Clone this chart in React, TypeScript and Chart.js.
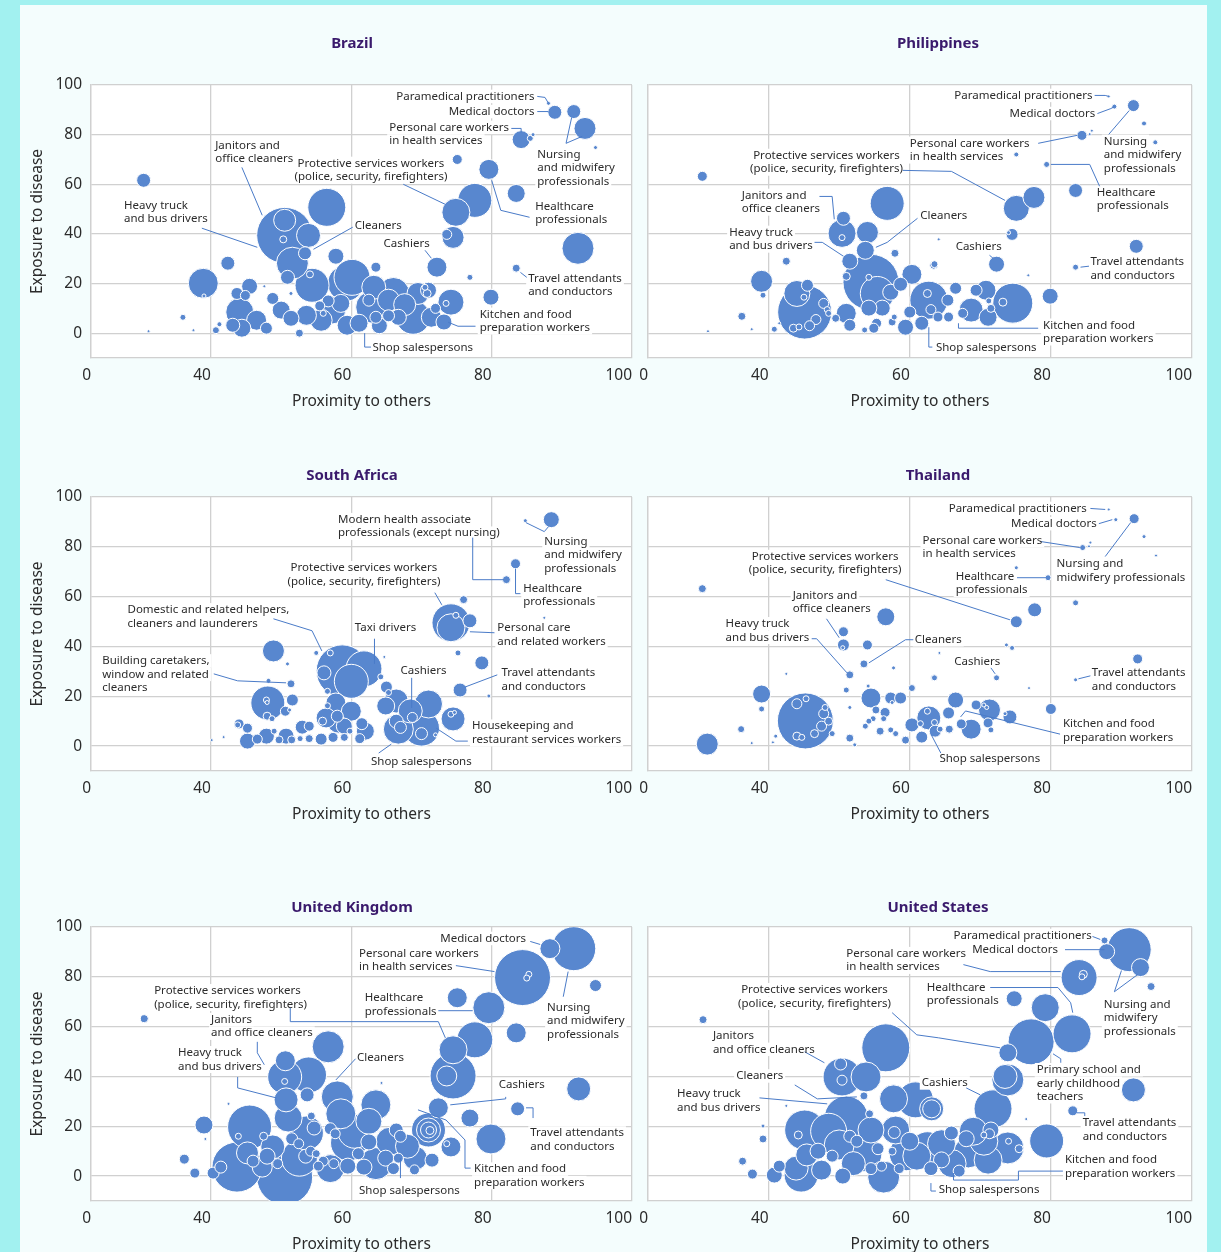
import React, { useEffect, useRef } from 'react';
import { Chart, registerables } from 'chart.js';

Chart.register(...registerables);
Chart.defaults.font.family = '"Noto Sans", "Open Sans", sans-serif';

// ---------- data: [proximity to others, exposure to disease, employment size] ----------
const BRAZIL = [
  [30.4,61.6,7],[31.1,0.8,1.5],[36.0,6.4,3],[37.5,1.2,1.5],[38.9,20.1,15],[39.0,15.0,2],[40.7,1.2,3.5],[41.2,3.6,2.5],[42.4,28.2,7],[44.1,8.5,14],[45.5,18.9,8],[43.7,16,6],[44.9,15.2,5],[44.4,2,9],[43.1,3.2,7],[46.5,5.2,10],[47.9,2,6],[47.6,18.9,1.5],[48.8,14,6],[50.0,9.3,9],[51.4,16,2],[51.4,6,8],[52.6,0,4],[50.5,39.4,28],[50.5,45.5,11],[50.3,37.8,3.5],[53.9,39.4,12],[53.4,32.2,6.5],[51.6,28.2,16],[50.9,22.5,7],[56.5,50.7,19],[57.8,31,8],[54.4,19.3,17],[54.1,23.7,3.5],[59.2,20.1,18],[53.6,7.2,10],[55.7,5.2,11],[59.4,3.2,10],[57.2,9.3,14],[55.5,11,5],[56,8,3],
  [88.1,92.6,2],[89.0,89.0,7],[91.7,89.3,7],[93.3,82.5,11],[94.8,74.8,2],[84.2,78.0,9],[85.5,78.5,3],[85.9,80,2],[75.1,70,5],[79.6,66,10],[83.5,56.3,9],[77.6,53.5,17],[74.9,48.7,14],[74.5,38.6,11],[73.6,39.8,5],[92.3,34.2,16],[72.2,26.6,10],[83.5,26.2,4],[76.9,22.5,3],[63.5,26.6,5],[79.9,14.5,8],
  [60.1,22.5,18],[66,16,16],[69.5,16,11],[71,17.3,8],[74.2,12.5,13],[68.8,6.4,17],[62.9,10.5,16],[61.1,4,9],[65.3,13.3,11],[62.5,13.3,6],[71.4,6.4,10],[66.7,6.4,8],[63.5,6.4,6],[65.3,7,6],[72,10,5],[73.5,12,3],[70.8,16,4],[70.5,18.5,3],[64,3,8],[58.5,12,9],[56.7,13,6],[63.2,18.5,12],[67.6,11.5,11],[73.2,4.5,8],
];

const PHILIPPINES = [
  [30.6,63.2,5],[31.4,0.8,1.5],[36.2,6.8,4],[37.6,1.6,1.5],[39,20.9,11],[39.2,15.3,3],[40.8,1.6,3],[41.5,4,1.5],[42.5,29,4],[45.1,8.5,27],[44,16,13],[45.5,19.3,6],[45,14.5,3],[47.8,12,5],[48.3,9.5,3],[46.7,5.5,5],[45.8,3,5],[43.5,2,4],[44.3,2.5,3],[49.5,6,4],[48.5,8,3],[51,8,10],[51.5,3.2,6],[53.6,1.3,3],[50.6,46.3,7],[50.4,40.2,14],[50.4,38.5,3],[54,40.6,11],[56.8,52.3,17],[53.7,33.4,9],[51.5,29,8],[51,22.9,4],[54.5,20.5,28],[54.2,22.5,3],[55.4,16,17],[57.9,32.2,4],[60.3,23.7,10],[58.7,19.7,7],[57.3,16.5,8],[56.1,10.1,8],[54.2,10.1,8],[59.4,2.4,8],[57.5,4.5,4],[55.3,4,5],[54.9,2,5],[57.8,6.5,3],[60,8.5,6],[63.4,27.4,4],[61.7,4,7],[62.7,13.3,19],[62.5,16,4],
  [88.2,95.4,1.5],[89,91.3,2.5],[91.7,91.7,6],[93.2,84.5,2.5],[94.8,76.9,2.5],[84.4,79.7,5],[85.5,80.2,1.5],[85.8,81.6,1.5],[75.1,72,2.5],[79.4,68,3],[83.5,57.5,7],[77.6,54.7,11],[75.1,50.3,13],[64.1,37.8,1.5],[74.5,39.8,6],[74,40.5,2],[92.1,35,7],[72.3,27.8,8],[63.5,27.8,3.5],[83.5,26.6,3],[76.8,23.3,1.5],[79.9,14.9,8],[74.6,12.1,20],[70.8,17.3,10],[69.4,17.3,6],[66.5,18.1,6],[65.4,13.3,6],[68.7,9.3,12],[71.1,6.4,9],[67.5,8,5],[65.5,6.5,5],[64,6.5,5],[63,9.5,5],[73.2,12.5,4],[71.5,10,4],[71.2,13,3],
];

const SOUTH_AFRICA = [
  [40.1,2.4,1.5],[41.8,3.6,1.5],[44,8.9,5],[43.8,8.5,3],[45.2,2,8],[45.2,7.2,5],[46.6,2.8,5],[47.9,4,8],[48.9,38.2,11],[50.9,33,2],[48.2,26.2,2.5],[51.4,25,4],[48.1,17.3,17],[47.9,18.5,3],[48.0,17.5,2],[50.6,14,5],[51.2,14.5,2],[51.6,18.5,6],[48,12,4],[48.7,11,3],[50.7,4,8],[49.7,2.5,4],[51.5,2.5,4],[49,6,3],[53,7.6,7],[54,8,5],[55,37.4,2.5],[57,37.4,3],[56.1,29.4,7],[58.7,30.2,26],[57.8,17.3,10],[56.6,22,3],[56.6,16.2,3],[56.4,11.3,10],[58,12,6],[55.9,10,4],[55.7,2.8,6],[54,3,4],[57.4,3.5,5],[59,3.5,4],[59.8,6,3],[52.7,3,3],[58.2,10,12],[59,8,8],
  [84.8,90.5,2],[88.5,90.9,8],[83.4,73.2,5],[82.1,66.8,4],[87.5,51.5,1.5],[76,58.8,4],[74.2,49.5,19],[74.2,47.5,14],[74.9,52.5,3],[76.9,50.3,7],[75.2,37.4,3],[64.7,35.8,1.5],[78.6,33.4,7],[75.5,22.5,7],[79.6,20.1,2],[74.5,10.9,12],[74.2,12.8,3],[74.7,13.5,2],[61.8,31,18],[64.2,27.8,3],[65,23.7,6],[65.3,21.5,3],[66.4,18.1,12],[64.9,16.1,9],[68.4,14.1,12],[71,16.9,14],[68.7,11.5,5],[66.7,6.8,15],[66.4,10,7],[67,7.5,6],[70,7.2,18],[70,5,6],[72,4.5,2],[62,6,9],[61.2,3,5],[60,26,17],[60,14,10],[61.5,9,6],
];

const THAILAND = [
  [30.6,63.2,4],[31.3,0.8,11],[36.1,6.8,3.5],[37.6,1.2,1.5],[39,20.9,9],[39,14.9,3],[40.6,1.5,1.5],[41,4,2],[42.5,29,1.5],[45.2,10.1,28],[45.3,19,3],[44,17,5],[48,15.5,3],[47.8,13,5],[47.5,8,5],[48.5,10,4],[46.5,5,4],[44,4,4],[44.7,3.5,3],[49,5,3],[51.5,3.2,4],[52.2,0.5,2],[50.6,45.9,5],[50.6,40.6,6],[50.5,39.5,2],[54,40.6,5],[56.6,51.9,9],[53.5,33,4],[51.5,28.6,4],[51,22.5,3],[54.1,24.1,2],[54.5,19.3,10],[51.5,15.5,2],[57.7,31.4,2],[57.3,19.3,6],[58.7,19.3,6],[57.5,17.5,2],[60.3,23.3,3.5],[63.4,27.4,3],[55.2,14.5,4],[56.5,13.5,5],[54.8,11,3],[56.3,11,3],[54.2,10,3],[53.7,8,3],[55.8,6,4],[57.3,6.5,3],[58,5,3],[59.4,2.4,4],[60.3,8.5,7],[61.7,3.6,6],[62.7,11.3,12],[62.5,14,3],[61.5,9,3],
  [88.2,95,1.5],[89.2,90.9,2],[91.8,91.3,5],[93.2,84.1,2],[94.9,76.5,1.5],[84.5,79.7,3],[85.4,80.2,1.5],[85.6,81.7,1.5],[75.1,71.6,2],[79.6,67.6,3],[83.5,57.5,3],[77.7,54.7,7],[75.1,49.9,6],[73.7,40.6,2],[74.5,39.4,2.5],[64.2,37.4,1.5],[92.3,35,5],[72.3,27.4,3],[63.5,27.4,3],[83.5,26.6,2],[76.9,23.3,1.5],[80,14.9,5.5],[74.2,11.7,7],[73.5,13,2],[71.3,14.5,11],[70.5,16.5,2],[70.9,15.5,2],[69.4,16.5,5],[66.5,18.5,8],[65.5,13.3,6],[68.7,6.8,10],[71.1,9.3,5],[71.5,6.5,3],[67.3,8.9,5],[65.6,6.8,4],[64.3,6.8,3],[63.5,9.5,3],[63.6,6,6],
];

const UNITED_KINGDOM = [
  [30.5,63.2,4],[36.2,6.8,5],[37.7,1.2,5],[39,20.5,9],[39.2,14.9,1.5],[42.5,29,1.5],[40.3,1.2,6],[41.4,3.6,6],[43.7,3.6,25],[45.5,19.7,22],[43.9,16,3],[45.2,9.3,11],[47.3,3.6,10],[48.8,11.7,12],[47.5,16,4],[50.5,-0.4,28],[51,23.3,14],[50.7,30.6,12],[50.5,39.8,17],[50.5,38,3],[50.6,46.3,10],[53.9,40.6,18],[56.7,51.9,16],[53.7,32.6,7],[58,31.8,16],[54.3,24.1,4],[54.7,19.3,7],[57.7,17,5],[54.2,10,5],[55,9,4],[52.6,7.2,18],[53.5,8,7],[52.5,13,5],[56,6,5],[57.5,5,5],[55.3,4,5],[57,3,14],[59.6,13.3,18],[53.6,17.3,17],[48,8,8],[46,6,6],[49.5,5,5],[51.5,15,6],[57,19,6],
  [88.3,91.3,10],[91.7,91.3,22],[84.4,79.7,28],[85.3,81,3],[85,79.5,3],[94.8,76.5,6],[75.1,71.6,10],[79.6,67.6,16],[83.5,57.5,10],[77.6,54.7,18],[74.5,50.7,14],[74.5,40.2,23],[73.6,40.2,10],[92.4,35,12],[64.3,37.4,1.5],[72.4,27.4,10],[83.7,27,7],[76.9,23.3,9],[79.9,14.9,15],[63.5,28.6,15],[58.5,25,15],[71,18.5,17],[71,18.5,12],[71,18.5,8],[71.2,18.3,4],[66.4,18.5,7],[62.5,13.7,8],[74.2,11.7,10],[73.6,13,3],[69.1,7.2,12],[71.5,6.4,7],[66.7,7.2,5],[64.9,7.2,8],[61.8,3.6,8],[63.5,5,16],[60.5,18,17],[62.5,22,13],[65.5,14,14],[68,12,12],[67,16,6],[59.5,4,8],[66,3,6],[69,2.5,5],[61,9,6],
];

const UNITED_STATES = [
  [30.7,62.8,4],[36.3,6,4],[37.7,0.8,5],[39.2,14.9,4],[39.2,20.1,2],[42.5,28.2,1.5],[40.8,0.4,8],[41.5,4,6],[43.9,3.2,12],[45.1,18.5,20],[44.6,0.4,17],[45.4,8.5,11],[44.2,16.5,4],[48.5,18,18],[47.5,2.4,10],[50,12.5,15],[51,23.3,22],[50.4,39.8,19],[50.2,45,6],[50.4,38.5,5],[53.8,39.8,15],[56.6,51.5,24],[53.5,32.2,4],[57.7,31,14],[54.3,25,4],[54.5,18.5,13],[51.5,16,6],[53.5,9,18],[52,5,12],[50.5,0,8],[54.5,3,6],[56,4,5],[56.3,-0.4,16],[58.5,3,5],[60.8,30.6,18],[58,18.5,14],[57.8,17.5,6],[59.5,9,17],[60,14,9],[63.1,27,9],[47,10,8],[49,8,6],[52.5,14,6],[55.5,11,6],[57.5,10,4],
  [87.6,94.6,3.5],[87.9,90.1,8],[91.1,90.9,22],[92.7,83.7,9],[94.2,76.1,4],[84,79.7,18],[84.6,81,4],[84.4,80,3],[74.8,71.2,8],[79.2,67.6,14],[83,57.1,19],[77.2,53.9,23],[73.9,49.5,9],[73.9,38.6,16],[73.5,40,12],[91.7,34.6,12],[71.8,27,19],[76.5,22.9,1.5],[83.1,26.2,5],[79.4,14.1,17],[73.9,11.3,16],[74,14,3],[71.1,6.4,14],[70.5,14,14],[65.9,17.3,7],[63.1,27,12],[68.3,9.3,15],[66,5,14],[63,3,7],[62.5,11,17],[64.5,13,14],[68,15,8],[69,18,14],[71.5,18.5,8],[71.3,17,5],[70.5,16.5,3],[61,8,14],[64.5,6.5,8],[67,2,6],[75.5,11,4],
];

// axis ticks
const X_MIN = 22.9;
const X_MAX = 100;
const X_TICKS = [X_MIN, 40, 60, 80, 100];
const X_TICK_LABELS = ['0', '40', '60', '80', '100'];
const Y_MIN = -10;
const Y_MAX = 100;
const Y_TICKS = [0, 20, 40, 60, 80, 100];

// ---------- annotations (label text, anchor and leader path in data units) ----------
const BRAZIL_NOTES = [
  { t: ['Paramedical practitioners'], x: 86.1, y: 95.4, a: 'r', p: [[86.5,95.4],[87.6,95.0],[88.1,92.6]] },
  { t: ['Medical doctors'], x: 86.1, y: 89.3, a: 'r', p: [[86.5,89.3],[88.1,89.3]] },
  { t: ['Personal care workers', 'in health services'], x: 65.4, y: 82.9, a: 'l', p: [[82.8,82.5],[84.2,82.5],[84.2,80.9]] },
  { t: ['Nursing', 'and midwifery', 'professionals'], x: 86.5, y: 72.0, a: 'l', p: [[91.4,86.9],[90.6,76.5],[92.9,79.3]] },
  { t: ['Protective services workers', '(police, security, firefighters)'], x: 62.8, y: 68.4, a: 'c', p: [[67.4,60.0],[73.4,51.9]] },
  { t: ['Healthcare', 'professionals'], x: 86.2, y: 51.1, a: 'l', p: [[80,61.6],[81.3,49.5],[85.4,46.7]] },
  { t: ['Cleaners'], x: 60.5, y: 43.1, a: 'l', p: [[60.2,42.7],[54.6,33.8]] },
  { t: ['Cashiers'], x: 64.6, y: 36.2, a: 'l', p: [[70.5,33.4],[71.4,30.2]] },
  { t: ['Travel attendants', 'and conductors'], x: 85.2, y: 22.1, a: 'l', p: [[84.1,24.5],[85.0,22.5]] },
  { t: ['Kitchen and food', 'preparation workers'], x: 78.3, y: 7.6, a: 'l', p: [[73.8,4.4],[75.2,2.8],[77.7,2.8]] },
  { t: ['Shop salespersons'], x: 63.0, y: -6.0, a: 'l', p: [[61.9,0],[61.9,-5.6],[62.8,-5.6]] },
  { t: ['Janitors and', 'office cleaners'], x: 40.6, y: 75.7, a: 'l', p: [[44.4,66.8],[47.3,47.5]] },
  { t: ['Heavy truck', 'and bus drivers'], x: 27.6, y: 51.5, a: 'l', p: [[38.7,42.3],[46.6,34.6]] },
];

const PHILIPPINES_NOTES = [
  { t: ['Paramedical practitioners'], x: 85.9, y: 95.8, a: 'r', p: [[86.2,95.8],[87.7,95.8],[88.2,95.4]] },
  { t: ['Medical doctors'], x: 86.3, y: 88.5, a: 'r', p: [[86.6,88.5],[88.5,90.5],[89.0,91.3]] },
  { t: ['Personal care workers', 'in health services'], x: 60.0, y: 76.5, a: 'l', p: [[78.2,76.5],[83.7,79.7]] },
  { t: ['Nursing', 'and midwifery', 'professionals'], x: 87.5, y: 77.3, a: 'l', p: [[88.2,80.1],[91.1,89.7]] },
  { t: ['Healthcare', 'professionals'], x: 86.5, y: 56.7, a: 'l', p: [[80.0,68.0],[85.5,68.0],[86.9,59.2]] },
  { t: ['Protective services workers', '(police, security, firefighters)'], x: 48.2, y: 71.6, a: 'c', p: [[59.0,65.6],[65.9,65.2],[73.5,53.5]] },
  { t: ['Janitors and', 'office cleaners'], x: 36.2, y: 55.5, a: 'l', p: [[47.2,55.1],[49.0,55.1],[49.3,45.9]] },
  { t: ['Heavy truck', 'and bus drivers'], x: 34.4, y: 40.6, a: 'l', p: [[46.5,36.6],[47.6,36.6],[50.6,31.0]] },
  { t: ['Cleaners'], x: 61.5, y: 47.5, a: 'l', p: [[61.1,46.3],[56.8,36.6],[55.2,34.6]] },
  { t: ['Cashiers'], x: 66.5, y: 35.0, a: 'l', p: [[71.3,31.4],[71.8,30.2]] },
  { t: ['Travel attendants', 'and conductors'], x: 85.6, y: 28.6, a: 'l', p: [[84.2,26.6],[85.4,27.0]] },
  { t: ['Kitchen and food', 'preparation workers'], x: 78.9, y: 3.2, a: 'l', p: [[66.9,4.0],[66.9,2.0],[78.2,2.0]] },
  { t: ['Shop salespersons'], x: 63.7, y: -6.0, a: 'l', p: [[62.7,2.4],[62.7,-5.6],[63.2,-5.6]] },
];

const SOUTH_AFRICA_NOTES = [
  { t: ['Modern health associate', 'professionals (except nursing)'], x: 58.1, y: 90.9, a: 'l', p: [[77.3,83.7],[77.3,66.8],[81.7,66.8]] },
  { t: ['Nursing', 'and midwifery', 'professionals'], x: 87.5, y: 82.1, a: 'l', p: [[84.9,89.7],[87.5,86.1],[88.1,88.1]] },
  { t: ['Healthcare', 'professionals'], x: 84.5, y: 63.2, a: 'l', p: [[83.4,71.2],[83.4,61.2],[84.1,61.2]] },
  { t: ['Protective services workers', '(police, security, firefighters)'], x: 61.8, y: 71.6, a: 'c', p: [[71.9,61.6],[72.9,56.7]] },
  { t: ['Personal care', 'and related workers'], x: 80.8, y: 47.5, a: 'l', p: [[76.9,45.9],[80.4,45.5]] },
  { t: ['Taxi drivers'], x: 60.5, y: 47.5, a: 'l', p: [[63.3,43.1],[63.3,33.0]] },
  { t: ['Domestic and related helpers,', 'cleaners and launderers'], x: 28.1, y: 54.7, a: 'l', p: [[48.9,51.1],[54.4,46.3],[55.8,38.2]] },
  { t: ['Building caretakers,', 'window and related', 'cleaners'], x: 24.5, y: 34.2, a: 'l', p: [[40.4,29.0],[43.8,26.2],[50.7,25.4]] },
  { t: ['Cashiers'], x: 67.0, y: 30.2, a: 'l', p: [[68.6,27.4],[68.6,15.3]] },
  { t: ['Travel attendants', 'and conductors'], x: 81.4, y: 29.4, a: 'l', p: [[76.2,23.7],[80.8,28.6]] },
  { t: ['Housekeeping and', 'restaurant services workers'], x: 77.2, y: 8.0, a: 'l', p: [[72.1,7.2],[74.9,2.0],[76.6,2.0]] },
  { t: ['Shop salespersons'], x: 62.8, y: -6.4, a: 'l', p: [[65.7,0.8],[63.9,-2.8]] },
];

const THAILAND_NOTES = [
  { t: ['Paramedical practitioners'], x: 85.1, y: 95.4, a: 'r', p: [[85.6,95.4],[87.7,95.0]] },
  { t: ['Medical doctors'], x: 86.5, y: 89.3, a: 'r', p: [[86.8,89.3],[88.7,90.9]] },
  { t: ['Personal care workers', 'in health services'], x: 61.8, y: 82.5, a: 'l', p: [[78.6,82.1],[84.1,79.7]] },
  { t: ['Nursing and', 'midwifery professionals'], x: 80.8, y: 73.2, a: 'l', p: [[87.7,76.1],[91.3,89.7]] },
  { t: ['Healthcare', 'professionals'], x: 66.5, y: 68.0, a: 'l', p: [[75.2,67.6],[79.3,67.6]] },
  { t: ['Protective services workers', '(police, security, firefighters)'], x: 48.0, y: 76.1, a: 'c', p: [[56.6,66.8],[74.2,50.7]] },
  { t: ['Janitors and', 'office cleaners'], x: 43.4, y: 60.4, a: 'l', p: [[48.2,51.1],[50.0,43.5]] },
  { t: ['Heavy truck', 'and bus drivers'], x: 33.9, y: 49.1, a: 'l', p: [[46.1,43.1],[46.8,43.1],[51.1,29.4]] },
  { t: ['Cleaners'], x: 60.7, y: 42.7, a: 'l', p: [[60.5,42.7],[59.4,42.7],[54.2,33.4]] },
  { t: ['Cashiers'], x: 66.3, y: 33.8, a: 'l', p: [[71.5,31.4],[72.1,29.0]] },
  { t: ['Travel attendants', 'and conductors'], x: 85.8, y: 29.4, a: 'l', p: [[83.9,27.0],[85.6,28.2]] },
  { t: ['Kitchen and food', 'preparation workers'], x: 81.7, y: 8.9, a: 'l', p: [[67.2,11.7],[67.9,14.1],[81.3,4.8]] },
  { t: ['Shop salespersons'], x: 64.2, y: -5.2, a: 'l', p: [[63.0,4.8],[64.4,-2.8]] },
];

const UNITED_KINGDOM_NOTES = [
  { t: ['Medical doctors'], x: 84.9, y: 95.4, a: 'r', p: [[85.5,94.2],[86.9,93.0]] },
  { t: ['Personal care workers', 'in health services'], x: 61.1, y: 89.3, a: 'l', p: [[74.9,84.5],[80.4,82.1]] },
  { t: ['Nursing', 'and midwifery', 'professionals'], x: 87.9, y: 67.6, a: 'l', p: [[90.9,82.1],[90.2,72.0]] },
  { t: ['Healthcare', 'professionals'], x: 61.9, y: 71.6, a: 'l', p: [[72.4,66.4],[77.3,66.4]] },
  { t: ['Protective services workers', '(police, security, firefighters)'], x: 31.9, y: 74.4, a: 'l', p: [[51.3,67.6],[51.3,62.0],[72.4,62.0],[73.4,55.5]] },
  { t: ['Janitors', 'and office cleaners'], x: 40.0, y: 62.8, a: 'l', p: [[46.6,53.9],[46.6,49.5],[47.6,44.7]] },
  { t: ['Heavy truck', 'and bus drivers'], x: 35.3, y: 49.5, a: 'l', p: [[43.8,39.8],[43.8,35.4],[49.3,31.4]] },
  { t: ['Cleaners'], x: 60.8, y: 47.5, a: 'l', p: [[60.6,47.1],[57.8,38.6]] },
  { t: ['Cashiers'], x: 81.0, y: 36.6, a: 'l', p: [[82.0,31.8],[82.0,31.0],[74.1,28.6]] },
  { t: ['Travel attendants', 'and conductors'], x: 85.5, y: 17.3, a: 'l', p: [[84.9,27.4],[85.9,27.4],[85.9,23.3]] },
  { t: ['Kitchen and food', 'preparation workers'], x: 77.5, y: 2.8, a: 'l', p: [[69.5,26.6],[73.5,22.5],[76.2,14.5],[76.2,3.2],[77.0,3.2]] },
  { t: ['Shop salespersons'], x: 61.1, y: -6.0, a: 'l', p: [[67.0,7.2],[67.0,-0.8]] },
];

const UNITED_STATES_NOTES = [
  { t: ['Paramedical practitioners'], x: 85.8, y: 96.6, a: 'r', p: [[85.9,96.2],[87.0,95.0]] },
  { t: ['Medical doctors'], x: 81.0, y: 90.9, a: 'r', p: [[82.0,90.9],[87.6,90.9]] },
  { t: ['Personal care workers', 'in health services'], x: 51.0, y: 89.3, a: 'l', p: [[67.6,84.9],[71.4,82.1],[81.4,82.1]] },
  { t: ['Healthcare', 'professionals'], x: 62.4, y: 75.7, a: 'l', p: [[71.4,75.7],[81.0,75.7],[82.8,69.6],[83.1,65.6]] },
  { t: ['Nursing and', 'midwifery', 'professionals'], x: 87.5, y: 68.8, a: 'l', p: [[90.0,82.5],[89.0,74.0],[92.3,80.9]] },
  { t: ['Protective services workers', '(police, security, firefighters)'], x: 46.5, y: 74.8, a: 'c', p: [[57.5,65.6],[61.0,56.7],[64.1,55.5],[72.8,51.5]] },
  { t: ['Janitors', 'and office cleaners'], x: 32.1, y: 56.3, a: 'l', p: [[45.1,49.9],[47.9,45.5]] },
  { t: ['Cleaners'], x: 35.4, y: 40.2, a: 'l', p: [[43.7,36.6],[46.9,31.0],[52.5,31.8]] },
  { t: ['Heavy truck', 'and bus drivers'], x: 27.0, y: 33.0, a: 'l', p: [[38.7,31.4],[48.3,29.0]] },
  { t: ['Cashiers'], x: 61.7, y: 37.4, a: 'l', p: [[68.0,35.4],[70.0,32.6]] },
  { t: ['Primary school and', 'early childhood', 'teachers'], x: 78.0, y: 42.7, a: 'l', p: [[80.3,49.1],[81.4,47.1],[81.4,45.5]] },
  { t: ['Travel attendants', 'and conductors'], x: 84.5, y: 21.3, a: 'l', p: [[83.7,25.4],[84.8,25.4],[84.8,24.1]] },
  { t: ['Kitchen and food', 'preparation workers'], x: 82.0, y: 6.4, a: 'l', p: [[66.2,1.2],[66.2,-1.6],[75.4,-1.6],[75.4,2.0],[81.7,2.0]] },
  { t: ['Shop salespersons'], x: 64.1, y: -5.6, a: 'l', p: [[63.0,-2.8],[63.0,-6.0],[63.7,-6.0]] },
];

// ---------- styles ----------
const OUTER_BG = '#a2f1f0';
const INNER_BG = '#f4fdfd';
const BUBBLE = '#5887cf';
const GRID = '#d0d0d0';
const LEADER = '#4a7bc8';
const TEXT = '#2b2b2b';
const TITLE = '#3a1a6c';
const NOTE_FONT = '11.5px "Noto Sans", sans-serif';
const NOTE_LH = 13.5;
const CANVAS_H = 432;
const X_AXIS_H = 70;

const COLS = [
  { left: 20, width: 620, yAxisW: 71, padR: 5, titleX: 332, showY: true },
  { left: 630, width: 577, yAxisW: 18, padR: 15, titleX: 308, showY: false },
];
const ROWS = [
  { top: 5, padT: 80, padB: 9 },
  { top: 437, padT: 60, padB: 28 },
  { top: 869, padT: 58, padB: 30 },
];

const PANELS = [
  { name: 'Brazil', data: BRAZIL, notes: BRAZIL_NOTES, col: 0, row: 0 },
  { name: 'Philippines', data: PHILIPPINES, notes: PHILIPPINES_NOTES, col: 1, row: 0 },
  { name: 'South Africa', data: SOUTH_AFRICA, notes: SOUTH_AFRICA_NOTES, col: 0, row: 1 },
  { name: 'Thailand', data: THAILAND, notes: THAILAND_NOTES, col: 1, row: 1 },
  { name: 'United Kingdom', data: UNITED_KINGDOM, notes: UNITED_KINGDOM_NOTES, col: 0, row: 2 },
  { name: 'United States', data: UNITED_STATES, notes: UNITED_STATES_NOTES, col: 1, row: 2 },
];

function makeDecor(name: string, notes: any[], titleX: number) {
  return {
    id: 'decor',
    beforeDraw(chart: any) {
      const { ctx, chartArea: a } = chart;
      ctx.save();
      ctx.fillStyle = '#ffffff';
      ctx.fillRect(a.left, a.top, a.right - a.left, a.bottom - a.top);
      ctx.restore();
    },
    afterDatasetsDraw(chart: any) {
      const { ctx } = chart;
      const xs = chart.scales.x;
      const ys = chart.scales.y;
      ctx.save();
      ctx.font = NOTE_FONT;
      ctx.textBaseline = 'middle';
      for (const n of notes) {
        const px = xs.getPixelForValue(n.x);
        const py = ys.getPixelForValue(n.y);
        n.t.forEach((line: string, i: number) => {
          const w = ctx.measureText(line).width;
          const left = n.a === 'l' ? px : n.a === 'r' ? px - w : px - w / 2;
          ctx.fillStyle = '#ffffff';
          ctx.fillRect(left - 2, py + i * NOTE_LH - NOTE_LH / 2, w + 4, NOTE_LH);
        });
      }
      ctx.strokeStyle = LEADER;
      ctx.lineWidth = 1;
      for (const n of notes) {
        ctx.beginPath();
        n.p.forEach((pt: number[], i: number) => {
          const X = xs.getPixelForValue(pt[0]);
          const Y = ys.getPixelForValue(pt[1]);
          if (i === 0) ctx.moveTo(X, Y);
          else ctx.lineTo(X, Y);
        });
        ctx.stroke();
      }
      ctx.fillStyle = TEXT;
      for (const n of notes) {
        const px = xs.getPixelForValue(n.x);
        const py = ys.getPixelForValue(n.y);
        ctx.textAlign = n.a === 'l' ? 'left' : n.a === 'r' ? 'right' : 'center';
        n.t.forEach((line: string, i: number) => ctx.fillText(line, px, py + i * NOTE_LH));
      }
      ctx.restore();
    },
    afterDraw(chart: any) {
      const { ctx } = chart;
      ctx.save();
      ctx.font = 'bold 15px "Noto Sans", sans-serif';
      ctx.fillStyle = TITLE;
      ctx.textAlign = 'center';
      ctx.textBaseline = 'middle';
      ctx.fillText(name, titleX, 39);
      ctx.restore();
    },
  };
}

function Panel({ panel }: { panel: any }) {
  const ref = useRef<HTMLCanvasElement>(null);
  const col = COLS[panel.col];
  const row = ROWS[panel.row];
  useEffect(() => {
    const points = panel.data
      .map((d: number[]) => ({ x: d[0], y: d[1], r: d[2] }))
      .sort((a: any, b: any) => b.r - a.r);
    const tickFont = { size: 15.5 };
    const chart = new Chart(ref.current as HTMLCanvasElement, {
      type: 'bubble',
      data: {
        datasets: [
          {
            data: points,
            backgroundColor: BUBBLE,
            borderColor: '#ffffff',
            borderWidth: 1,
            hoverBorderWidth: 1,
            hoverRadius: 0,
          },
        ],
      },
      options: {
        animation: false,
        responsive: false,
        events: [],
        layout: { autoPadding: false, padding: { left: 0, right: col.padR, top: row.padT, bottom: row.padB } },
        plugins: { legend: { display: false }, tooltip: { enabled: false }, title: { display: false } },
        scales: {
          x: {
            type: 'linear',
            min: X_MIN,
            max: X_MAX,
            afterBuildTicks: (s: any) => {
              s.ticks = X_TICKS.map((v) => ({ value: v }));
            },
            afterFit: (s: any) => {
              s.height = X_AXIS_H;
            },
            ticks: {
              align: 'end',
              padding: 8,
              color: TEXT,
              font: tickFont,
              maxRotation: 0,
              autoSkip: false,
              callback: (_v: any, i: number) => X_TICK_LABELS[i],
            },
            grid: { color: GRID, lineWidth: 1.3, drawTicks: false },
            border: { color: GRID, width: 1.3 },
            title: {
              display: true,
              text: 'Proximity to others',
              color: TEXT,
              font: { size: 15.5 },
              padding: { top: 0, bottom: 17 },
            },
          },
          y: {
            type: 'linear',
            min: Y_MIN,
            max: Y_MAX,
            afterBuildTicks: (s: any) => {
              s.ticks = Y_TICKS.map((v) => ({ value: v }));
            },
            afterFit: (s: any) => {
              s.width = col.yAxisW;
            },
            ticks: {
              display: col.showY,
              padding: 9,
              color: TEXT,
              font: tickFont,
              callback: (v: any) => String(v),
            },
            grid: { color: GRID, lineWidth: 1.3, drawTicks: false },
            border: { color: GRID, width: 1.3 },
            title: {
              display: col.showY,
              text: 'Exposure to disease',
              color: TEXT,
              font: { size: 15.5 },
              padding: { top: 8, bottom: 0 },
            },
          },
        },
      } as any,
      plugins: [makeDecor(panel.name, panel.notes, col.titleX)],
    });
    return () => chart.destroy();
  }, []);
  return (
    <canvas
      ref={ref}
      width={col.width}
      height={CANVAS_H}
      style={{ position: 'absolute', left: col.left, top: row.top, width: col.width, height: CANVAS_H }}
    />
  );
}

export default function App() {
  return (
    <div
      style={{
        position: 'fixed',
        left: 0,
        top: 0,
        width: 1221,
        height: 1252,
        background: OUTER_BG,
        overflow: 'hidden',
      }}
    >
      <div style={{ position: 'absolute', left: 20, top: 5, width: 1187, height: 1300, background: INNER_BG }} />
      {PANELS.map((p) => (
        <Panel key={p.name} panel={p} />
      ))}
    </div>
  );
}
